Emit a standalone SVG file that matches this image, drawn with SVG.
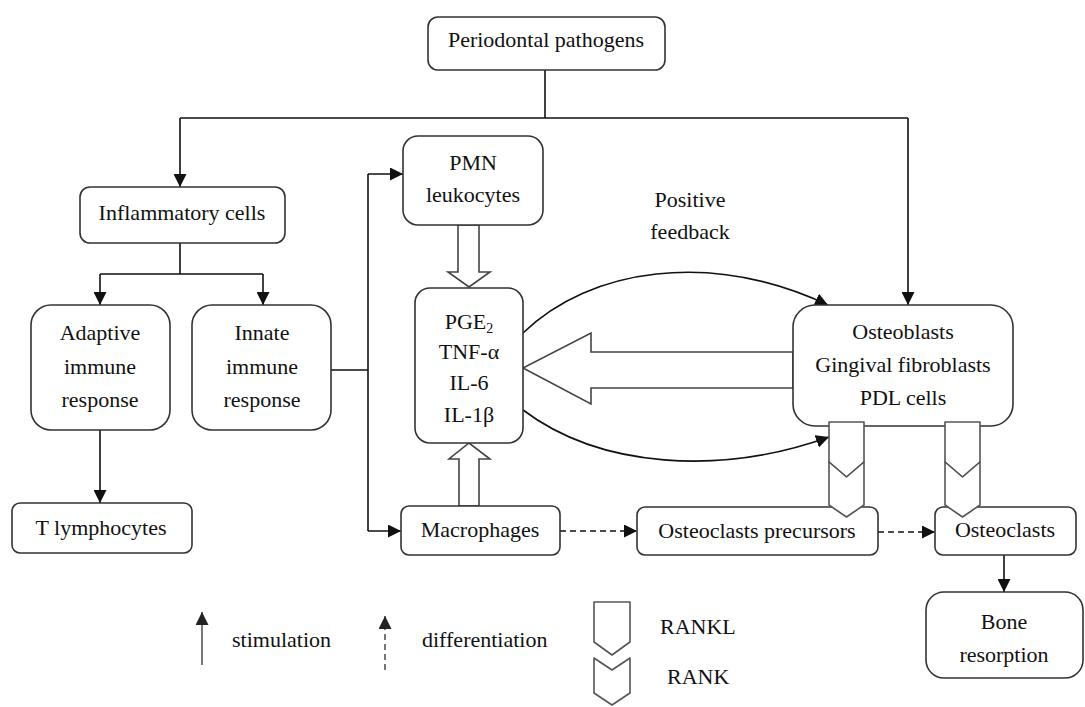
<svg xmlns="http://www.w3.org/2000/svg" width="1085" height="707" viewBox="0 0 1085 707">
<defs>
<style>
.box{fill:#fff;stroke:#333;stroke-width:1.6}
.t{font-family:'Liberation Serif','DejaVu Serif',serif;font-size:22px;fill:#111;text-anchor:middle}
.tl{font-family:'Liberation Serif','DejaVu Serif',serif;font-size:22px;fill:#111}
.ln{fill:none;stroke:#111;stroke-width:1.6}
.dash{fill:none;stroke:#111;stroke-width:1.6;stroke-dasharray:6 4}
.hol{fill:#fff;stroke:#444;stroke-width:1.6;stroke-linejoin:miter}
.rk{fill:#fff;stroke:#555;stroke-width:1.6;stroke-linejoin:round}
.lg{fill:none;stroke:#555;stroke-width:1.6}
</style>
<marker id="ah" viewBox="0 0 10 10" refX="10" refY="5" markerWidth="13" markerHeight="13" markerUnits="userSpaceOnUse" orient="auto">
<path d="M0,0 L10,5 L0,10 Z" fill="#111"/>
</marker>
<marker id="ahg" viewBox="0 0 10 10" refX="10" refY="5" markerWidth="13" markerHeight="13" markerUnits="userSpaceOnUse" orient="auto">
<path d="M0,0 L10,5 L0,10 Z" fill="#222"/>
</marker>
</defs>
<rect width="1085" height="707" fill="#fff"/>

<g id="connectors">
<path class="ln" d="M545,70 V118"/>
<path class="ln" d="M180,118 H908"/>
<path class="ln" d="M180,118 V187" marker-end="url(#ah)"/>
<path class="ln" d="M908,118 V305" marker-end="url(#ah)"/>
<path class="ln" d="M180,243 V274 M100,274 H263"/>
<path class="ln" d="M100,274 V305" marker-end="url(#ah)"/>
<path class="ln" d="M263,274 V305" marker-end="url(#ah)"/>
<path class="ln" d="M100,430 V503" marker-end="url(#ah)"/>
<path class="ln" d="M331,370 H368 M368,174 V531"/>
<path class="ln" d="M368,174 H403" marker-end="url(#ah)"/>
<path class="ln" d="M368,531 H401" marker-end="url(#ah)"/>
<path class="dash" d="M560,531 H637" marker-end="url(#ah)"/>
<path class="dash" d="M878,532 H935" marker-end="url(#ah)"/>
<path class="ln" d="M1004,555 V592" marker-end="url(#ah)"/>
<path class="ln" d="M523,333 C590,268 710,250 828,305" marker-end="url(#ah)"/>
<path class="ln" d="M523,410 C600,468 720,476 829,437" marker-end="url(#ah)"/>
<polygon class="hol" points="458,225 458,272 448,272 469,287 490,272 479,272 479,225"/>
<polygon class="hol" points="459,506 459,459 449,459 469,443 490,459 479,459 479,506"/>
<polygon class="hol" points="793,352 591,352 591,333 523,368 591,404 591,388 793,388"/>
</g>

<g id="periodontal-pathogens">
<rect class="box" x="428" y="17" width="237" height="53" rx="10"/>
<text class="t" x="546" y="47">Periodontal pathogens</text>
</g>
<g id="inflammatory-cells">
<rect class="box" x="80" y="187" width="205" height="56" rx="10"/>
<text class="t" x="182" y="220">Inflammatory cells</text>
</g>
<g id="adaptive">
<rect class="box" x="31" y="305" width="139" height="125" rx="20"/>
<text class="t" x="100" y="340">Adaptive</text>
<text class="t" x="100" y="374">immune</text>
<text class="t" x="100" y="407">response</text>
</g>
<g id="innate">
<rect class="box" x="192" y="305" width="139" height="125" rx="20"/>
<text class="t" x="262" y="340">Innate</text>
<text class="t" x="262" y="374">immune</text>
<text class="t" x="262" y="407">response</text>
</g>
<g id="t-lymphocytes">
<rect class="box" x="12" y="503" width="180" height="50" rx="8"/>
<text class="t" x="101" y="535">T lymphocytes</text>
</g>
<g id="pmn">
<rect class="box" x="403" y="136" width="140" height="89" rx="15"/>
<text class="t" x="473" y="170">PMN</text>
<text class="t" x="473" y="202">leukocytes</text>
</g>
<g id="cytokines">
<rect class="box" x="415" y="288" width="108" height="155" rx="15"/>
<text class="t" x="469" y="329">PGE<tspan font-size="14" dy="4">2</tspan></text>
<text class="t" x="469" y="359">TNF-α</text>
<text class="t" x="469" y="390">IL-6</text>
<text class="t" x="469" y="422">IL-1β</text>
</g>
<g id="positive-feedback">
<text class="t" x="690" y="207">Positive</text>
<text class="t" x="690" y="239">feedback</text>
</g>
<g id="osteoblasts">
<rect class="box" x="793" y="305" width="220" height="121" rx="22"/>
<text class="t" x="903" y="339">Osteoblasts</text>
<text class="t" x="903" y="372">Gingival fibroblasts</text>
<text class="t" x="903" y="405">PDL cells</text>
</g>
<g id="macrophages">
<rect class="box" x="401" y="506" width="159" height="49" rx="8"/>
<text class="t" x="480" y="537">Macrophages</text>
</g>
<g id="osteoclasts-precursors">
<rect class="box" x="637" y="507" width="241" height="48" rx="8"/>
<text class="t" x="757" y="538">Osteoclasts precursors</text>
</g>
<g id="osteoclasts">
<rect class="box" x="935" y="507" width="141" height="48" rx="8"/>
<text class="t" x="1005" y="537">Osteoclasts</text>
</g>
<g id="bone-resorption">
<rect class="box" x="926" y="592" width="157" height="86" rx="18"/>
<text class="t" x="1004" y="629">Bone</text>
<text class="t" x="1004" y="662">resorption</text>
</g>

<g id="rankl-rank-1">
<path class="rk" d="M829,422 H864 V462 L846.5,477 L829,462 Z"/>
<path class="rk" d="M829,462 L846.5,477 L864,462 V505 L846.5,517 L829,505 Z"/>
</g>
<g id="rankl-rank-2">
<path class="rk" d="M945,422 H980 V462 L962.5,477 L945,462 Z"/>
<path class="rk" d="M945,462 L962.5,477 L980,462 V505 L962.5,517 L945,505 Z"/>
</g>

<g id="legend">
<path class="lg" d="M202,665 V612" marker-end="url(#ahg)"/>
<text class="tl" x="232" y="647">stimulation</text>
<path class="lg" d="M385,670 V616" stroke-dasharray="6 4" marker-end="url(#ahg)"/>
<text class="tl" x="422" y="647">differentiation</text>
<path class="rk" d="M594,602 H630 V642 L612,655 L594,642 Z"/>
<path class="rk" d="M594,658 L612,670 L630,658 V693 L612,705 L594,693 Z"/>
<text class="tl" x="660" y="634">RANKL</text>
<text class="tl" x="667" y="684">RANK</text>
</g>
</svg>
